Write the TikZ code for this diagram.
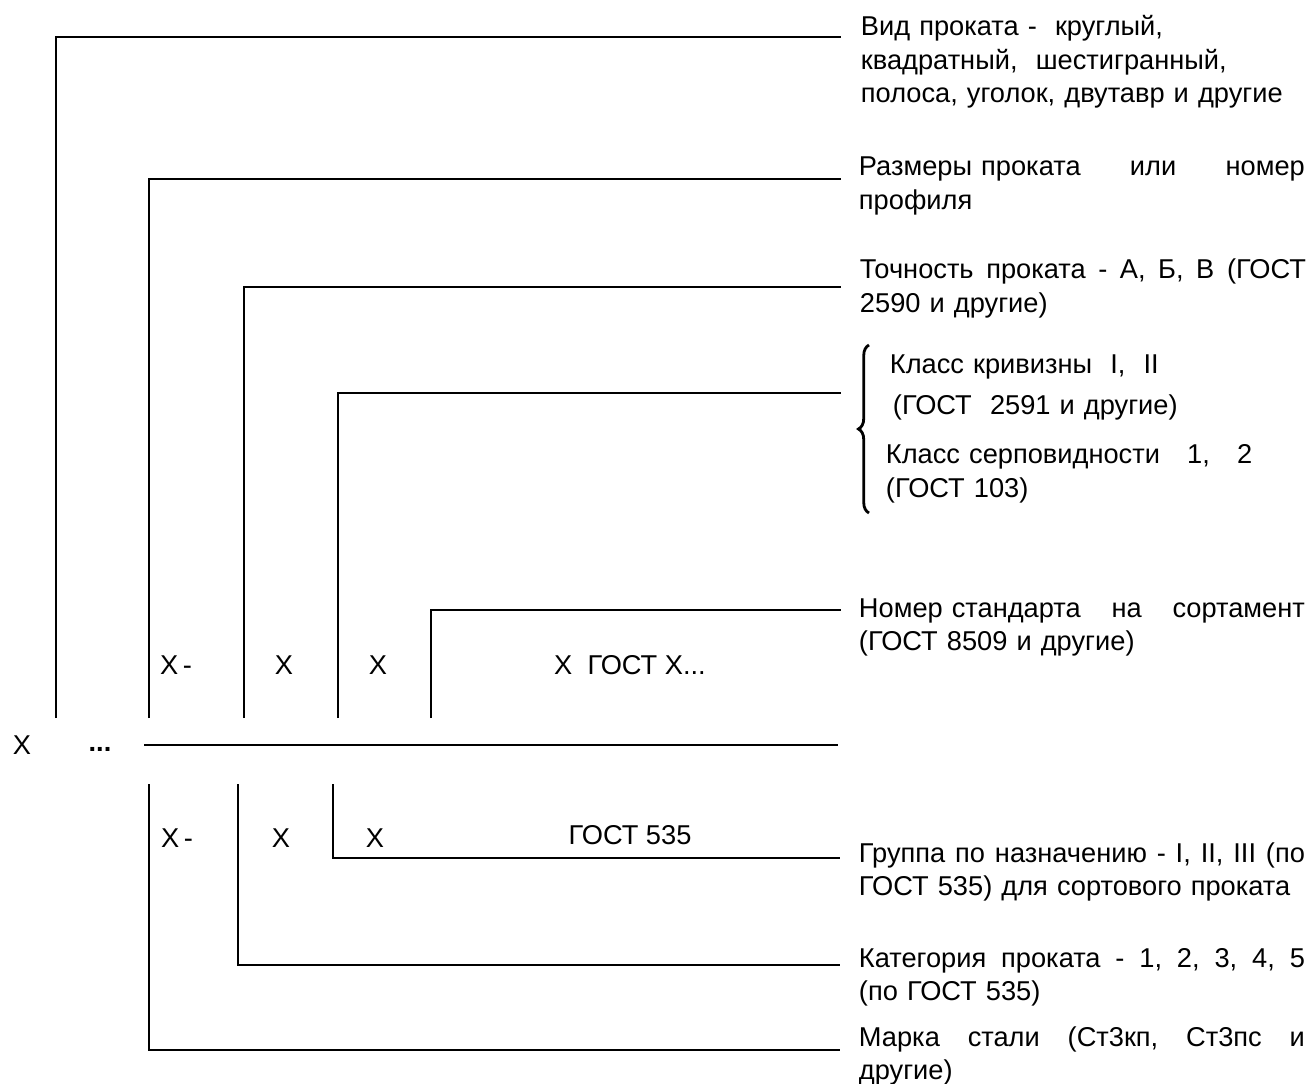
\documentclass[tikz,border=0pt]{standalone}
\usepackage{fontspec}
\setmainfont{Liberation Sans}
\usetikzlibrary{decorations.pathreplacing, calc}
% a stretchable word space for justified lines
\newcommand{\js}{\ \hfill}

\begin{document}
\begin{tikzpicture}[x=0.02cm, y=-0.02cm, line width=1.1pt,
  every node/.style={font=\fontsize{15.5}{19}\selectfont, inner sep=0pt},
  note/.style={anchor=base west, text width=8.92cm, align=left},
  sym/.style={anchor=center}]
\useasboundingbox (0,0) rectangle (1309,1084);
% --- Formula: upper row ---
\node[sym] (xa) at (22,745) {X};
\node[sym] (dots) at (100,749) {\textbf{...}};
\node[sym] (u1) at (176,665) {X\,-};
\node[sym] (u2) at (284,665) {X};
\node[sym] (u3) at (378,665) {X};
\node[sym] (u4) at (630,665) {X\ \ ГОСТ X...};
% --- Formula: lower row ---
\node[sym] (l1) at (177,838) {X\,-};
\node[sym] (l2) at (281,838) {X};
\node[sym] (l3) at (375,838) {X};
\node[sym] (l4) at (630,835) {ГОСТ 535};
% fraction line
\coordinate (ml) at (144,745);
\coordinate (mr) at (838,745);
\draw (ml) -- (mr);
% Leaders above the line
\foreach \n/\bx/\by in {1/56/37, 2/149/179, 3/244/287, 4/338/393, 5/431/610} {
  \coordinate (up\n) at (\bx,718);
  \coordinate (tu\n) at (841,\by);
  \draw (up\n) |- (tu\n);
}
% Leaders below the line
\foreach \n/\bx/\by in {1/149/1050, 2/238/965, 3/333/858} {
  \coordinate (lo\n) at (\bx,784);
  \coordinate (tl\n) at (840,\by);
  \draw (lo\n) |- (tl\n);
}
% --- Notes ---
\node[note] (vid) at (860,36) {Вид проката -\ \ круглый,\\
  квадратный,\ \ шестигранный,\\
  полоса, уголок, двутавр и другие};
\node[note] (razm) at (858,176) {Размеры проката\js или\js номер\\профиля};
\node[note] (toch) at (859,279) {Точность\js проката\js -\js А,\js Б,\js В\js (ГОСТ\\2590 и другие)};
\coordinate (bb) at (869,513);
\coordinate (bt) at (869,345);
\draw[line width=1.6pt, decorate, decoration={brace, amplitude=6pt}] (bb) -- (bt);
\node[note] (kriv) at (889,374) {Класс кривизны\ \ I,\ \ II\\[4pt]
  \hspace*{0.06cm}(ГОСТ\ \ 2591 и другие)};
\node[note] (serp) at (885,464) {Класс серповидности\ \ \ 1,\ \ \ 2\\(ГОСТ 103)};
\node[note] (nom) at (858,617) {Номер стандарта\js на\js сортамент\\(ГОСТ 8509 и другие)};
\node[note] (grup) at (858,862) {Группа\js по\js назначению\js -\js I,\js II,\js III\js (по\\ГОСТ 535) для сортового проката};
\node[note] (kat) at (858,967) {Категория\js проката\js -\js 1,\js 2,\js 3,\js 4,\js 5\\(по ГОСТ 535)};
\node[note] (mark) at (858,1046) {Марка\js стали\js (Ст3кп,\js Ст3пс\js и\\другие)};
\end{tikzpicture}
\end{document}
